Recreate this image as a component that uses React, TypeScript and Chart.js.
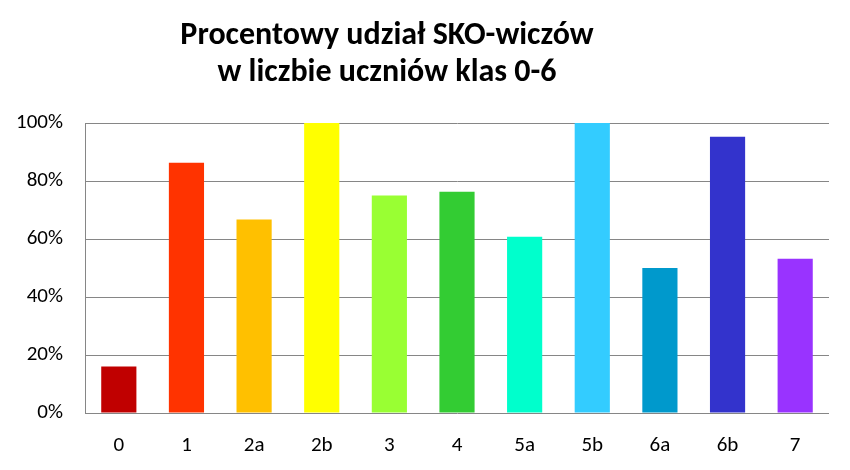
import React, { useEffect, useRef } from "react";
import { Chart, registerables } from "chart.js";

Chart.register(...registerables);

const categories = ["0", "1", "2a", "2b", "3", "4", "5a", "5b", "6a", "6b", "7"];
const values = [16, 86.3, 66.7, 100, 75, 76.3, 60.8, 100, 50, 95.3, 53.2];
const barColors = [
  "#C00000", "#FF3300", "#FFC000", "#FFFF00", "#99FF33", "#33CC33",
  "#00FFCC", "#33CCFF", "#0099CC", "#3333CC", "#9933FF",
];
const titleLines = ["Procentowy udział SKO-wiczów", "w liczbie uczniów klas 0-6"];

const FONT = "Carlito, Calibri, Lato, 'Open Sans', sans-serif";

const titlePlugin = {
  id: "customTitle",
  afterDraw(chart: any) {
    const ctx = chart.ctx;
    ctx.save();
    ctx.fillStyle = "#000";
    ctx.font = `bold 32px ${FONT}`;
    ctx.textAlign = "center";
    ctx.textBaseline = "middle";
    ctx.fillText(titleLines[0], 387, 36);
    ctx.fillText(titleLines[1], 387, 73);
    ctx.restore();
  },
};

export default function App() {
  const ref = useRef<HTMLCanvasElement>(null);
  useEffect(() => {
    document.body.style.margin = "0";
    const chart = new Chart(ref.current!, {
      type: "bar",
      data: {
        labels: categories,
        datasets: [
          {
            data: values,
            backgroundColor: barColors,
            barPercentage: 0.52,
            categoryPercentage: 1,
          },
        ],
      },
      plugins: [titlePlugin],
      options: {
        animation: false,
        responsive: false,
        maintainAspectRatio: false,
        layout: { padding: { top: 123, right: 21, left: 0, bottom: 0 } },
        plugins: { legend: { display: false }, title: { display: false }, tooltip: { enabled: false } },
        scales: {
          x: {
            grid: { display: false, drawTicks: false },
            border: { display: false },
            ticks: { color: "#000", font: { family: FONT, size: 21 }, padding: 20 },
            afterFit: (s: any) => { s.height = 57; },
          },
          y: {
            min: 0,
            max: 100,
            ticks: {
              stepSize: 20,
              color: "#000",
              font: { family: FONT, size: 21 },
              padding: 22,
              callback: (v: any) => v + "%",
            },
            grid: { color: "#868686", lineWidth: 1, drawTicks: false },
            border: { display: true, color: "#868686", width: 1 },
            afterFit: (s: any) => { s.width = 85; },
          },
        },
      },
    });
    return () => chart.destroy();
  }, []);
  return (
    <div style={{ width: 850, height: 470 }}>
      <canvas ref={ref} width={850} height={470} />
    </div>
  );
}
